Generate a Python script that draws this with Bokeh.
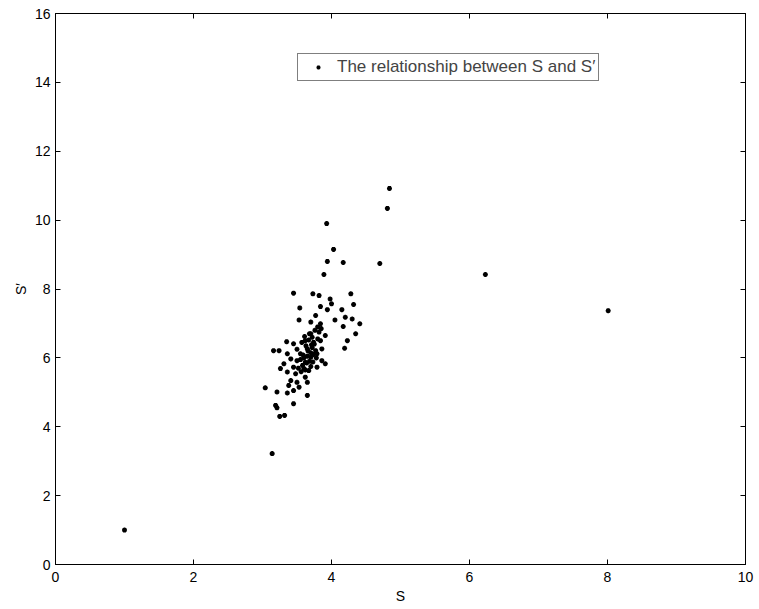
from bokeh.plotting import figure
from bokeh.models import LinearAxis, Range1d, FixedTicker, Legend, LegendItem
from bokeh.embed import file_html
from bokeh.resources import INLINE

# S values (x) and S' values (y)
s_vals = [1.00, 3.14, 6.23, 8.01, 4.84, 4.81, 3.93, 4.03, 3.94, 4.17, 3.89, 4.70,
          3.45, 3.73, 3.82, 3.54, 3.84, 3.98, 4.00, 3.94, 4.28, 4.32, 4.15, 4.20,
          4.30, 4.41, 4.35, 4.23, 4.19, 4.05, 4.17, 3.77, 3.70, 3.84, 3.53, 3.70,
          3.82, 3.91, 3.62, 3.74, 3.35, 3.45, 3.65, 3.77, 3.24, 3.16, 3.36, 3.55,
          3.70, 3.79, 3.41, 3.50, 3.62, 3.86, 3.91, 3.31, 3.45, 3.60, 3.67, 3.26,
          3.36, 3.48, 3.62, 3.41, 3.50, 3.65, 3.38, 3.53, 3.04, 3.21, 3.36, 3.45,
          3.65, 3.45, 3.19, 3.21, 3.25, 3.32, 3.84, 3.86, 3.79,
          3.65, 3.70, 3.72, 3.68, 3.60, 3.75, 3.80, 3.63, 3.58, 3.70, 3.55, 3.66,
          3.74, 3.78, 3.62, 3.52, 3.50, 3.57, 3.85, 3.80, 3.76, 3.72, 3.68, 3.64,
          3.71, 3.59, 3.67, 3.73, 3.61, 3.56]
s_prime = [1.00, 3.22, 8.42, 7.37, 10.92, 10.34, 9.90, 9.15, 8.80, 8.77, 8.42, 8.74,
           7.88, 7.86, 7.81, 7.45, 7.49, 7.71, 7.57, 7.40, 7.86, 7.55, 7.40, 7.18,
           7.13, 6.99, 6.70, 6.50, 6.28, 7.10, 6.91, 7.23, 7.04, 6.99, 7.10, 6.70,
           6.75, 6.65, 6.50, 6.45, 6.47, 6.41, 6.26, 6.21, 6.21, 6.21, 6.12, 6.12,
           6.02, 6.12, 5.97, 5.92, 5.87, 5.92, 5.83, 5.83, 5.73, 5.69, 5.63, 5.69,
           5.59, 5.54, 5.44, 5.34, 5.29, 5.29, 5.20, 5.15, 5.13, 5.01, 4.98, 5.05,
           4.91, 4.67, 4.62, 4.55, 4.30, 4.33, 6.50, 6.26, 5.73,
           6.05, 6.15, 6.30, 5.90, 6.00, 6.40, 6.55, 6.35, 5.78, 5.75, 5.95, 6.20,
           6.10, 6.00, 5.65, 5.70, 6.25, 6.45, 6.85, 6.90, 6.80, 6.60, 6.70, 5.85,
           6.38, 6.08, 6.52, 5.88, 6.62, 5.60]

x_ticks = [0, 2, 4, 6, 8, 10]
y_ticks = [0, 2, 4, 6, 8, 10, 12, 14, 16]
legend_label = "The relationship between S and S\u2032"

FONT = "Liberation Sans"

p = figure(width=755, height=609, output_backend="svg", toolbar_location=None,
           x_range=Range1d(0, 10), y_range=Range1d(0, 16),
           min_border_left=55, min_border_right=10, min_border_top=13, min_border_bottom=45,
           x_axis_label="S", y_axis_label="S\u2032")
p.grid.visible = False
p.outline_line_color = "black"
p.outline_line_width = 1
p.background_fill_color = "white"
p.border_fill_color = "white"

for ax in p.xaxis + p.yaxis:
    ax.major_tick_in = 5
    ax.major_tick_out = 0
    ax.minor_tick_in = 0
    ax.minor_tick_out = 0
    ax.axis_line_color = "black"
    ax.major_tick_line_color = "black"
    ax.major_label_text_font = FONT
    ax.major_label_text_font_size = "14px"
    ax.major_label_text_color = "black"
    ax.axis_label_text_font = FONT
    ax.axis_label_text_font_size = "14px"
    ax.axis_label_text_font_style = "normal"
    ax.axis_label_text_color = "black"
p.xaxis.ticker = FixedTicker(ticks=x_ticks)
p.yaxis.ticker = FixedTicker(ticks=y_ticks)
p.xaxis.major_label_standoff = 7
p.xaxis.axis_label_standoff = 3
p.yaxis.major_label_standoff = 5
p.yaxis.axis_label_standoff = 3

top = LinearAxis(ticker=FixedTicker(ticks=x_ticks), major_tick_in=5, major_tick_out=0,
                 minor_tick_in=0, minor_tick_out=0, major_label_text_font_size="1px",
                 major_label_text_color=None, major_label_standoff=0,
                 axis_line_color="black")
right = LinearAxis(ticker=FixedTicker(ticks=y_ticks), major_tick_in=5, major_tick_out=0,
                   minor_tick_in=0, minor_tick_out=0, major_label_text_font_size="1px",
                   major_label_text_color=None, major_label_standoff=0,
                   axis_line_color="black")
p.add_layout(top, "above")
p.add_layout(right, "right")

r = p.scatter(s_vals, s_prime, marker="asterisk", size=5, line_width=1.6,
              line_color="black", fill_color="black")

legend = Legend(items=[LegendItem(label=legend_label, renderers=[r])],
                location=(242, 483), padding=3, margin=0, spacing=0,
                glyph_width=34, glyph_height=10, label_height=10, label_standoff=2,
                label_text_font=FONT, label_text_font_size="17px",
                border_line_color="black", border_line_width=1,
                background_fill_color="white", background_fill_alpha=1.0)
p.add_layout(legend)

open("out.html", "w").write(file_html(p, INLINE))
